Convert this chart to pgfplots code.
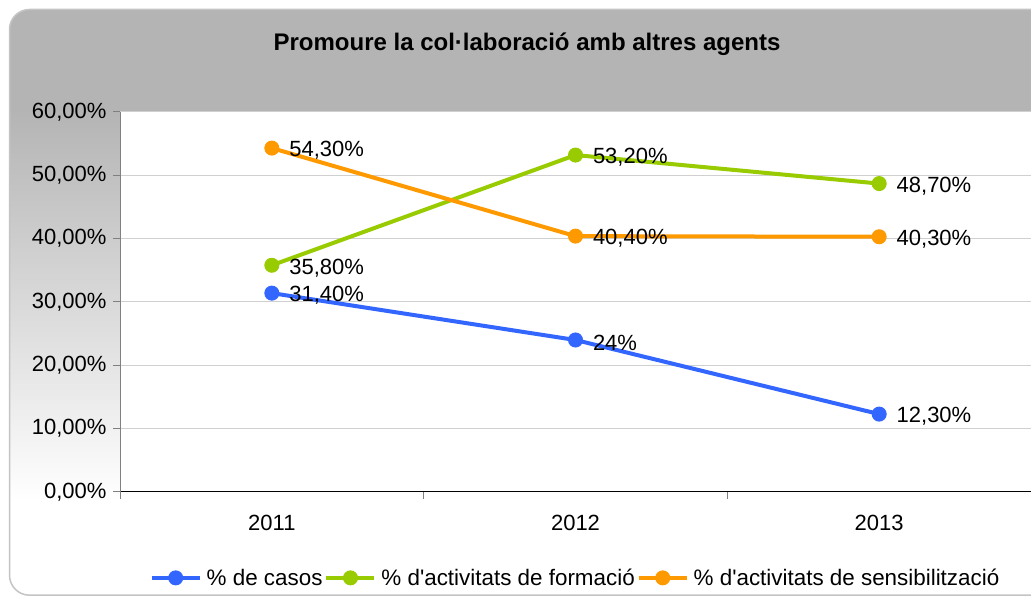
\documentclass[border=0pt]{standalone}
\usepackage{pgfplots}
\pgfplotsset{compat=1.18}
\usepackage{fontspec}
\setmainfont{Liberation Sans}
\definecolor{cblue}{HTML}{3366FF}
\definecolor{cgreen}{HTML}{99CC00}
\definecolor{corange}{HTML}{FF9900}
\definecolor{cgray}{HTML}{B4B4B4}
\definecolor{cborder}{HTML}{C4C4C4}
\definecolor{cyline}{HTML}{808080}
\definecolor{cgrid}{HTML}{D0D0D0}
\pgfdeclareverticalshading{bgshade}{100bp}{color(0bp)=(white); color(33bp)=(white); color(66.5bp)=(cgray); color(100bp)=(cgray)}
\newcommand\lab{\fontsize{22bp}{26bp}\selectfont}
\newcommand\leglab{\fontsize{22.4bp}{26bp}\selectfont}
\begin{document}
\begin{tikzpicture}[x=1bp,y=1bp]
\path[use as bounding box] (0,0) rectangle (1031,596);
\fill[white] (0,0) rectangle (1031,596);
\begin{scope}
\clip (0,0) rectangle (1031,596);
\path[shading=bgshade, draw=cborder, line width=1.5bp, rounded corners=20bp] (9.5,0.8) rectangle (1070,586.5);
\end{scope}
\node[font=\fontsize{24bp}{28bp}\selectfont\bfseries] at (527,552) {Promoure la col·laboració amb altres agents};
\begin{axis}[
  at={(120bp,104bp)}, anchor=south west,
  scale only axis, width=911bp, height=380bp,
  xmin=-0.5, xmax=2.5, ymin=0, ymax=60,
  axis lines*=left,
  x axis line style={black, line width=1bp},
  y axis line style={cyline, line width=1bp},
  axis background/.style={fill=white},
  xtick={-0.5,0.5,1.5,2.5}, xticklabels={},
  extra x ticks={0,1,2}, extra x tick labels={2011,2012,2013},
  extra x tick style={major tick length=0pt, grid=none},
  ytick={0,10,...,60}, ymajorgrids, grid style={cgrid, line width=1bp},
  tick align=outside, major tick length=7bp, tick style={cyline, line width=1bp},
  yticklabel={\pgfmathprintnumber[fixed,fixed zerofill,precision=2,use comma]{\tick}\%},
  /pgf/number format/assume math mode=true,
  ticklabel style={font=\lab, text=black},
  xticklabel style={yshift=-20bp},
  yticklabel style={xshift=-3bp},
  clip=false,
  every axis plot/.append style={line width=4bp, mark=*, mark size=7bp, mark options={solid, line width=1bp}},
  nodes near coords, point meta=explicit symbolic,
  every node near coord/.append style={anchor=west, font=\lab, text=black, inner sep=0pt, xshift=17bp, yshift=-2.5bp},
  legend columns=3,
  legend style={at={(0.5,-0.226)}, anchor=center, draw=none, fill=none, font=\leglab,
    /tikz/every even column/.append style={column sep=0bp}},
  legend cell align=left,
  legend image code/.code={\draw[#1, mark repeat=2, mark phase=2] plot coordinates {(0bp,0bp)(24bp,0bp)(48bp,0bp)}; \path (51bp,0bp);},
]
\addplot[color=cblue] coordinates {(0,31.4)[{31,40\%}] (1,24.0)[{24\%}] (2,12.3)[{12,30\%}]};
\addlegendentry{\% de casos}
\addplot[color=cgreen] coordinates {(0,35.8)[{35,80\%}] (1,53.2)[{53,20\%}] (2,48.7)[{48,70\%}]};
\addlegendentry{\% d\textquotesingle activitats de formació}
\addplot[color=corange] coordinates {(0,54.3)[{54,30\%}] (1,40.4)[{40,40\%}] (2,40.3)[{40,30\%}]};
\addlegendentry{\% d\textquotesingle activitats de sensibilització}
\end{axis}
\end{tikzpicture}
\end{document}
